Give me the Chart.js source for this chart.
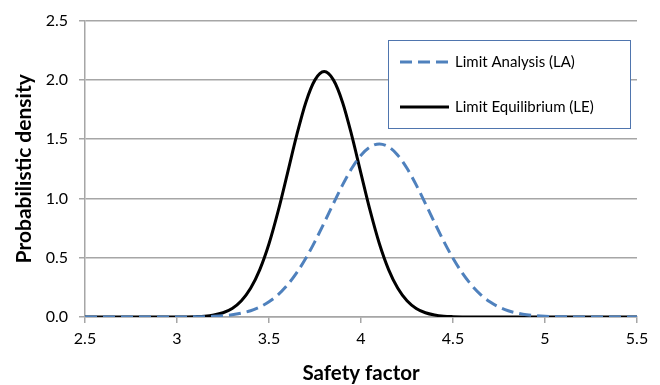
<!DOCTYPE html>
<html>
<head>
<meta charset="utf-8">
<script src="https://cdn.jsdelivr.net/npm/chart.js@4/dist/chart.umd.min.js"></script>
<style>
  html, body { margin: 0; padding: 0; background: #fff; }
  #wrap { width: 660px; height: 385px; }
</style>
</head>
<body>
<div id="wrap"><canvas id="c" width="660" height="385"></canvas></div>
<script>
// Safety factor values (x)
const safetyFactor = [
  2.50, 2.55, 2.60, 2.65, 2.70, 2.75, 2.80, 2.85, 2.90, 2.95,
  3.00, 3.05, 3.10, 3.15, 3.20, 3.25, 3.30, 3.35, 3.40, 3.45,
  3.50, 3.55, 3.60, 3.65, 3.70, 3.75, 3.80, 3.85, 3.90, 3.95,
  4.00, 4.05, 4.10, 4.15, 4.20, 4.25, 4.30, 4.35, 4.40, 4.45,
  4.50, 4.55, 4.60, 4.65, 4.70, 4.75, 4.80, 4.85, 4.90, 4.95,
  5.00, 5.05, 5.10, 5.15, 5.20, 5.25, 5.30, 5.35, 5.40, 5.45, 5.50
];
// Limit Analysis (LA) probabilistic density
const limitAnalysis = [
  0, 0, 0, 0, 0, 0, 0, 0, 0, 0,
  0, 0, 0.002, 0.003, 0.006, 0.011, 0.019, 0.033, 0.053, 0.084,
  0.128, 0.189, 0.270, 0.372, 0.495, 0.638, 0.795, 0.957, 1.114, 1.254,
  1.365, 1.435, 1.460, 1.435, 1.365, 1.254, 1.114, 0.957, 0.795, 0.638,
  0.495, 0.372, 0.270, 0.189, 0.128, 0.084, 0.053, 0.033, 0.019, 0.011,
  0.006, 0.003, 0.002, 0, 0, 0, 0, 0, 0, 0, 0
];
// Limit Equilibrium (LE) probabilistic density
const limitEquilibrium = [
  0, 0, 0, 0, 0, 0, 0, 0, 0, 0,
  0, 0.001, 0.003, 0.007, 0.017, 0.036, 0.072, 0.137, 0.242, 0.400,
  0.618, 0.895, 1.210, 1.530, 1.810, 2.000, 2.070, 2.000, 1.810, 1.530,
  1.210, 0.895, 0.618, 0.400, 0.242, 0.137, 0.072, 0.036, 0.017, 0.007,
  0.003, 0.001, 0, 0, 0, 0, 0, 0, 0, 0,
  0, 0, 0, 0, 0, 0, 0, 0, 0, 0, 0
];
const seriesLabels = ['Limit Analysis (LA)', 'Limit Equilibrium (LE)'];
const xTitle = 'Safety factor';
const yTitle = 'Probabilistic density';

const toPoints = (ys) => safetyFactor.map((x, i) => ({ x: x, y: ys[i] }));

const boxLegend = {
  id: 'boxLegend',
  afterDraw(chart) {
    const ctx = chart.ctx;
    const x0 = 388.5, y0 = 40.5, w = 242, h = 88;
    ctx.save();
    ctx.fillStyle = '#ffffff';
    ctx.fillRect(x0, y0, w, h);
    ctx.strokeStyle = '#4F75AE';
    ctx.lineWidth = 1;
    ctx.strokeRect(x0, y0, w, h);
    const rows = [62, 107];
    chart.data.datasets.forEach((ds, i) => {
      const y = rows[i];
      ctx.beginPath();
      ctx.strokeStyle = ds.borderColor;
      ctx.lineWidth = ds.borderWidth;
      ctx.setLineDash(ds.borderDash || []);
      ctx.moveTo(400, y);
      ctx.lineTo(449, y);
      ctx.stroke();
      ctx.setLineDash([]);
      ctx.fillStyle = '#000';
      ctx.font = '15px Lato, "Open Sans", sans-serif';
      ctx.textBaseline = 'middle';
      ctx.textAlign = 'left';
      ctx.fillText(ds.label, 455, y);
    });
    ctx.restore();
  }
};

new Chart(document.getElementById('c'), {
  type: 'line',
  data: {
    datasets: [
      {
        label: seriesLabels[0],
        data: toPoints(limitAnalysis),
        borderColor: '#4F81BD',
        borderWidth: 3,
        borderDash: [12, 6],
        pointRadius: 0,
        cubicInterpolationMode: 'monotone',
        fill: false
      },
      {
        label: seriesLabels[1],
        data: toPoints(limitEquilibrium),
        borderColor: '#000000',
        borderWidth: 3,
        pointRadius: 0,
        cubicInterpolationMode: 'monotone',
        fill: false
      }
    ]
  },
  options: {
    responsive: false,
    animation: false,
    layout: { padding: { left: 0, right: 23, top: 19, bottom: 0 } },
    plugins: {
      legend: { display: false },
      tooltip: { enabled: false }
    },
    scales: {
      x: {
        type: 'linear',
        min: 2.5,
        max: 5.5,
        afterFit(s) { s.height = 68; },
        ticks: {
          stepSize: 0.5,
          color: '#000',
          padding: 6,
          maxRotation: 0,
          font: { family: 'Lato, "Open Sans", sans-serif', size: 16 },
          callback: (v) => String(Number(v.toFixed(1)))
        },
        grid: {
          display: true,
          drawOnChartArea: false,
          drawTicks: true,
          tickLength: 6,
          color: '#A6A6A6',
          lineWidth: 1.5
        },
        border: { display: true, color: '#A6A6A6', width: 1.5 },
        title: {
          display: true,
          text: xTitle,
          color: '#000',
          font: { family: 'Lato, "Open Sans", sans-serif', size: 20.5, weight: 'bold' },
          padding: { top: 0, bottom: -1 }
        }
      },
      y: {
        min: 0,
        max: 2.5,
        afterFit(s) { s.width = 85; },
        ticks: {
          stepSize: 0.5,
          color: '#000',
          padding: 11,
          font: { family: 'Lato, "Open Sans", sans-serif', size: 16 },
          callback: (v) => Number(v).toFixed(1)
        },
        grid: {
          color: '#A6A6A6',
          lineWidth: 1.5,
          drawTicks: true,
          tickLength: 6
        },
        border: { display: true, color: '#A6A6A6', width: 1.5 },
        title: {
          display: true,
          text: yTitle,
          color: '#000',
          font: { family: 'Lato, "Open Sans", sans-serif', size: 21, weight: 'bold' },
          padding: { top: 12, bottom: 0 }
        }
      }
    }
  },
  plugins: [boxLegend]
});
</script>
</body>
</html>
